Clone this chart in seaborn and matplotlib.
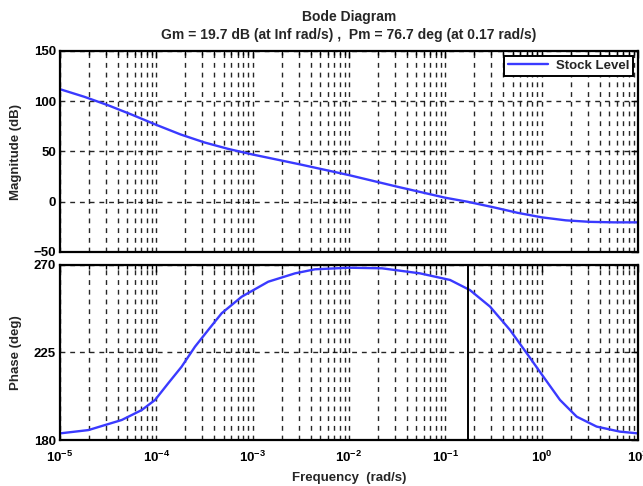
import matplotlib
matplotlib.use("Agg")
import matplotlib.pyplot as plt
import seaborn as sns
import pandas as pd
from matplotlib.ticker import LogLocator, NullFormatter, FixedLocator

# ---- data ----
mag_freq = [1e-5, 1.78e-5, 3.16e-5, 5.62e-5, 1e-4, 1.78e-4, 3.16e-4, 5.62e-4,
            1e-3, 3.16e-3, 1e-2, 3.16e-2, 0.1, 0.17, 0.316, 0.562, 1.0, 1.78,
            3.16, 5.62, 10.0]
mag_db = [112, 104.5, 96, 86.5, 76.5, 67, 59, 52.5,
          47, 37, 26.5, 15, 4, 0, -5.5, -11, -15.5, -18.5,
          -20, -20.5, -20.5]

ph_freq = [1e-5, 1.97e-5, 4.38e-5, 7.05e-5, 9.7e-5, 1.33e-4, 1.83e-4, 2.52e-4,
           3.46e-4, 4.77e-4, 7.7e-4, 1.45e-3, 2.75e-3, 4.44e-3, 1e-2, 2.2e-2,
           5.46e-2, 0.112, 0.18, 0.291, 0.469, 0.70, 1.04, 1.55, 2.31, 3.72,
           6.5, 10.0]
ph_deg = [183.4, 185.1, 190.3, 195.4, 200.6, 209.2, 217.7, 228,
          236.6, 245.2, 253.7, 261.4, 265.7, 267.8, 268.6, 268.3,
          265.7, 262.3, 257.1, 248.6, 236.6, 224.6, 212.6, 200.6, 192, 186.9,
          184.3, 183.4]

series_name = "Stock Level"
title_lines = ["Bode Diagram",
               "Gm = 19.7 dB (at Inf rad/s) ,  Pm = 76.7 deg (at 0.17 rad/s)"]
pm_freq = 0.17
mag_ticks = [-50, 0, 50, 100, 150]
ph_ticks = [180, 225, 270]

sns.set_style("white")
plt.rcParams['font.family'] = ['Liberation Sans', 'DejaVu Sans']
plt.rcParams['font.weight'] = 'bold'
plt.rcParams['mathtext.default'] = 'regular'
plt.rcParams['axes.linewidth'] = 1.6

FS = 9.5

fig = plt.figure(figsize=(6.43, 4.86), dpi=100)
ax1 = fig.add_axes([60/643, 1-252/486, 578/643, 201/486])
ax2 = fig.add_axes([60/643, 1-440/486, 578/643, 175/486])

mag_df = pd.DataFrame({"freq": mag_freq, "mag": mag_db, "s": series_name})
ph_df = pd.DataFrame({"freq": ph_freq, "phase": ph_deg, "s": series_name})

blue = "#3a3aff"
sns.lineplot(data=mag_df, x="freq", y="mag", hue="s", palette=[blue],
             ax=ax1, linewidth=1.7, sort=True)
sns.lineplot(data=ph_df, x="freq", y="phase", color=blue, ax=ax2,
             linewidth=1.7, sort=True)
ax2.axvline(pm_freq, color="black", linewidth=1.4)

gridstyle = dict(color="black", linestyle=(0, (3.5, 3.5)), linewidth=1.0, alpha=0.85)
for ax in (ax1, ax2):
    ax.set_xscale("log")
    ax.set_xlim(1e-5, 10)
    ax.xaxis.set_major_locator(LogLocator(base=10, numticks=10))
    ax.xaxis.set_minor_locator(LogLocator(base=10, subs=range(2, 10), numticks=100))
    ax.xaxis.set_minor_formatter(NullFormatter())
    ax.grid(True, which="major", axis="both", **gridstyle)
    ax.grid(True, which="minor", axis="x", **gridstyle)
    ax.tick_params(which="both", direction="in", top=True, right=True,
                   labelsize=FS, width=1.0, colors="black", pad=3)
    ax.tick_params(which="major", length=5)
    ax.tick_params(which="minor", length=3)
    ax.tick_params(axis="x", which="both", pad=7)
    for sp in ax.spines.values():
        sp.set_color("black")
        sp.set_linewidth(1.6)

ax1.set_ylim(-50, 150)
ax1.yaxis.set_major_locator(FixedLocator(mag_ticks))
ax1.set_xticklabels([])
ax1.set_xlabel("")
ax1.set_ylabel("Magnitude (dB)", fontsize=FS, fontweight="bold", labelpad=8)

ax2.set_ylim(180, 270)
ax2.yaxis.set_major_locator(FixedLocator(ph_ticks))
ax2.set_ylabel("Phase (deg)", fontsize=FS, fontweight="bold", labelpad=8)
ax2.set_xlabel("Frequency  (rad/s)", fontsize=FS, fontweight="bold", labelpad=5)

leg = ax1.legend(loc="upper right", fontsize=FS, frameon=True, fancybox=False,
                 borderpad=0.3, handlelength=3.0, handletextpad=0.6,
                 borderaxespad=0.35)
leg.get_frame().set_edgecolor("black")
leg.get_frame().set_linewidth(1.4)
leg.get_frame().set_alpha(1)
for t in leg.get_texts():
    t.set_fontweight("bold")

fig.text(349/643, 1-17/486, title_lines[0], ha="center", va="center",
         fontsize=10, fontweight="bold")
fig.text(349/643, 1-35/486, title_lines[1], ha="center", va="center",
         fontsize=10, fontweight="bold")

fig.savefig("out.png", dpi=100)
